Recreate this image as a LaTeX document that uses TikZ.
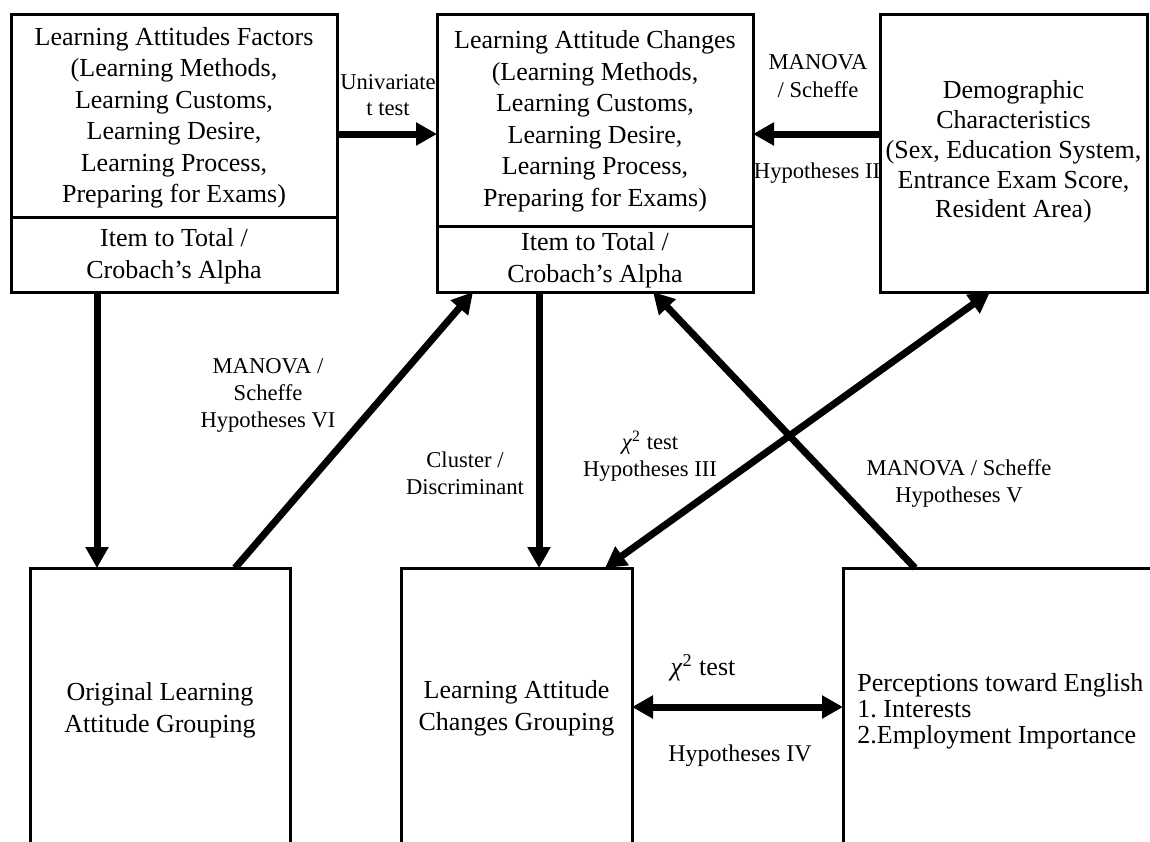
\documentclass[tikz,border=0pt]{standalone}
\usepackage{fontspec}
\setmainfont{Liberation Serif}
\usetikzlibrary{arrows.meta}
\frenchspacing
\begin{document}
\begin{tikzpicture}[x=0.5pt,y=-0.5pt,
 box/.style={draw,line width=1.5pt,inner sep=0pt,outer sep=0pt},
 big/.style={font=\fontsize{13}{15.75}\selectfont,align=center,inner sep=0pt},
 lab/.style={font=\fontsize{11.3}{13.5}\selectfont,align=center,inner sep=0pt},
 arr/.style={line width=3.5pt,-{Triangle[length=10.5pt,width=11pt]}},
 darr/.style={line width=3.5pt,{Triangle[length=10.5pt,width=11pt]}-{Triangle[length=10.5pt,width=11pt]}}]
\useasboundingbox (0,0) rectangle (1150,841);
\fill[white] (0,0) rectangle (1150,841);
% boxes
\node[box,minimum width=163pt,minimum height=139pt] (A) at (174,153) {};
\node[box,minimum width=158pt,minimum height=139pt] (B) at (595,153) {};
\node[box,minimum width=133.5pt,minimum height=139pt] (C) at (1013.5,153) {};
\node[box,minimum width=130pt,minimum height=166pt] (D) at (160,734) {};
\node[box,minimum width=115.5pt,minimum height=166pt] (E) at (516.5,734) {};
\node[box,minimum width=158.5pt,minimum height=166pt] (F) at (1001.5,734) {};
\draw[line width=1.5pt] ([yshift=-32pt]A.west) -- ([yshift=-32pt]A.east);
\draw[line width=1.5pt] ([yshift=-36.5pt]B.west) -- ([yshift=-36.5pt]B.east);
% box texts
\node[big] (At) at (174,118) {Learning Attitudes Factors\\(Learning Methods,\\Learning Customs,\\Learning Desire,\\Learning Process,\\Preparing for Exams)};
\node[big] (Ab) at (174,256) {Item to Total /\\Crobach’s Alpha};
\node[big] (Bt) at (595,121.5) {Learning Attitude Changes\\(Learning Methods,\\Learning Customs,\\Learning Desire,\\Learning Process,\\Preparing for Exams)};
\node[big] (Bb) at (595,260) {Item to Total /\\Crobach’s Alpha};
\node[big,font=\fontsize{13}{14.9}\selectfont] (Ct) at (1013.5,152) {Demographic\\Characteristics\\(Sex, Education System,\\Entrance Exam Score,\\Resident Area)};
\node[big] (Dt) at (160,710.5) {Original Learning\\Attitude Grouping};
\node[big] (Et) at (516.5,708.5) {Learning Attitude\\Changes Grouping};
\node[big,align=left,anchor=west,font=\fontsize{13}{13}\selectfont] (Ft) at (857,711) {Perceptions toward English\\1. Interests\\2.Employment Importance};
% connectors
\draw[arr] ([yshift=9.5pt]A.east) -- ([yshift=9.5pt]B.west);
\draw[arr] ([yshift=9.5pt]C.west) -- ([yshift=9.5pt]B.east);
\draw[arr] ([xshift=-38.5pt]A.south) -- ([xshift=-31.5pt]D.north);
\draw[arr] ([xshift=37.5pt]D.north) -- ([xshift=-61pt]B.south);
\draw[arr] ([xshift=-28pt]B.south) -- ([xshift=11.25pt]E.north);
\draw[darr] ([xshift=-11.75pt]C.south) -- ([xshift=44.25pt]E.north);
\draw[arr] ([xshift=-43.25pt]F.north) -- ([xshift=29pt]B.south);
\draw[darr] ([yshift=13.5pt]E.east) -- ([yshift=13.5pt]F.west);
% labels
\node[lab,font=\fontsize{11.3}{13}\selectfont] (l1) at (388,95) {Univariate\\t test};
\node[lab,font=\fontsize{11.3}{14}\selectfont] (l2) at (818,76) {MANOVA\\/ Scheffe};
\node[lab] (l3) at (817,173) {Hypotheses II};
\node[lab] (l4) at (268,395) {MANOVA /\\Scheffe\\Hypotheses VI};
\node[lab] (l5) at (465,473.5) {Cluster /\\Discriminant};
\node[lab] (l6) at (650,456.5) {\textit{χ}\textsuperscript{2} test\\Hypotheses III};
\node[lab] (l7) at (959,483.5) {MANOVA / Scheffe\\Hypotheses V};
\node[big] (l8) at (703,668) {\textit{χ}\textsuperscript{2} test};
\node[lab,font=\fontsize{12}{14}\selectfont] (l9) at (740,756) {Hypotheses IV};
\end{tikzpicture}
\end{document}
